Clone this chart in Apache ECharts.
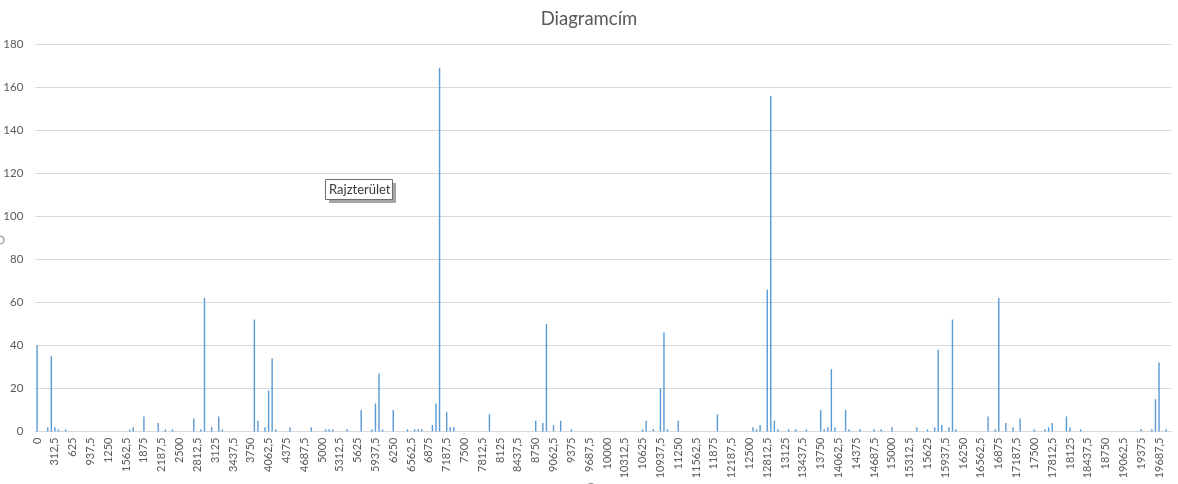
<!DOCTYPE html>
<html>
<head>
<meta charset="utf-8">
<script src="https://cdn.jsdelivr.net/npm/echarts@6/dist/echarts.min.js"></script>
<style>
  html, body { margin: 0; padding: 0; background: #fff; }
  #chart { width: 1178px; height: 484px; }
</style>
</head>
<body>
<div id="chart"></div>
<script>
// Category axis: 0 .. 19875 in steps of 62.5 (Hungarian decimal comma)
var categoryStart = 0;
var categoryStep = 62.5;
var categoryCount = 319;
var categories = [];
for (var i = 0; i < categoryCount; i++) {
  categories.push(String(categoryStart + i * categoryStep).replace('.', ','));
}

// Series values, one per category
var values = [
  40,0,0,2,35,2,1,0,1,0, 0,0,0,0,0,0,0,0,0,0,
  0,0,0,0,0,0,1,2,0,0, 7,0,0,0,4,0,1,0,1,0,
  0,0,0,0,6,0,1,62,0,2, 0,7,1,0,0,0,0,0,0,0,
  0,52,5,0,2,19,34,1,0,0, 0,2,0,0,0,0,0,2,0,0,
  0,1,1,1,0,0,0,1,0,0, 0,10,0,0,1,13,27,1,0,0,
  10,0,0,0,1,0,1,1,1,0, 0,3,13,169,0,9,2,2,0,0,
  0,0,0,0,0,0,0,8,0,0, 0,0,0,0,0,0,0,0,0,0,
  5,0,4,50,0,3,0,5,0,0, 1,0,0,0,0,0,0,0,0,0,
  0,0,0,0,0,0,0,0,0,0, 1,5,0,1,0,20,46,1,0,0,
  5,0,0,0,0,0,0,0,0,0, 0,8,0,0,0,0,0,0,0,0,
  0,2,1,3,0,66,156,5,1,0, 0,1,0,1,0,0,1,0,0,0,
  10,1,2,29,2,0,0,10,1,0, 0,1,0,0,0,1,0,1,0,0,
  2,0,0,0,0,0,0,2,0,0, 1,0,2,38,3,0,2,52,1,0,
  0,0,0,0,0,0,0,7,0,1, 62,0,4,0,2,0,6,0,0,0,
  1,0,0,1,2,4,0,0,0,7, 2,0,0,1,0,0,0,0,0,0,
  0,0,0,0,0,0,0,0,0,0, 1,0,0,1,15,32,0,1,0
];

var yTicks = { min: 0, max: 180, interval: 20 };
var titleText = 'Diagramcím';
var hoverText = 'Rajzterület';

var chart = echarts.init(document.getElementById('chart'), null, { renderer: 'canvas' });
chart.setOption({
  animation: false,
  backgroundColor: '#ffffff',
  textStyle: { fontFamily: 'Lato, "Open Sans", sans-serif' },
  title: {
    text: titleText,
    left: 'center',
    top: 5,
    textStyle: { fontFamily: 'Lato, sans-serif', fontSize: 18.5, fontWeight: 'normal', color: '#595959' }
  },
  grid: { left: 35.3, right: 6.5, top: 44, bottom: 52.5, containLabel: false },
  xAxis: {
    type: 'category',
    data: categories,
    boundaryGap: true,
    axisLine: { show: true, lineStyle: { color: '#d9d9d9', width: 1 } },
    axisTick: { show: false },
    axisLabel: {
      interval: 4,
      rotate: 90,
      margin: 6,
      fontSize: 11,
      fontFamily: 'Lato, sans-serif',
      color: '#595959'
    },
    splitLine: { show: false }
  },
  yAxis: {
    type: 'value',
    min: yTicks.min,
    max: yTicks.max,
    interval: yTicks.interval,
    axisLine: { show: false },
    axisTick: { show: false },
    axisLabel: { margin: 12, fontSize: 11.5, fontFamily: 'Lato, sans-serif', color: '#595959' },
    splitLine: { show: true, lineStyle: { color: '#d9d9d9', width: 1 } }
  },
  series: [{
    type: 'bar',
    data: values,
    barWidth: '40%',
    itemStyle: { color: '#5b9bd5' }
  }],
  graphic: [{
    type: 'group',
    left: 325,
    top: 179,
    children: [{
      type: 'rect',
      shape: { x: 4, y: 4, width: 67, height: 20 },
      style: { fill: '#a6a6a6', stroke: null }
    }, {
      type: 'rect',
      shape: { x: 0.5, y: 0.5, width: 67, height: 20 },
      style: { fill: '#ffffff', stroke: '#6e6e6e', lineWidth: 1 }
    }, {
      type: 'text',
      x: 4,
      y: 10.5,
      style: {
        text: hoverText,
        font: '13px Lato, sans-serif',
        fill: '#3a3a3a',
        verticalAlign: 'middle'
      }
    }]
  }, {
    type: 'circle',
    shape: { cx: 0, cy: 240, r: 4 },
    style: { fill: '#ffffff', stroke: '#8c8c8c', lineWidth: 1.2 }
  }, {
    type: 'circle',
    shape: { cx: 591, cy: 488, r: 4.5 },
    style: { fill: '#ffffff', stroke: '#8c8c8c', lineWidth: 1.2 }
  }]
});
</script>
</body>
</html>
